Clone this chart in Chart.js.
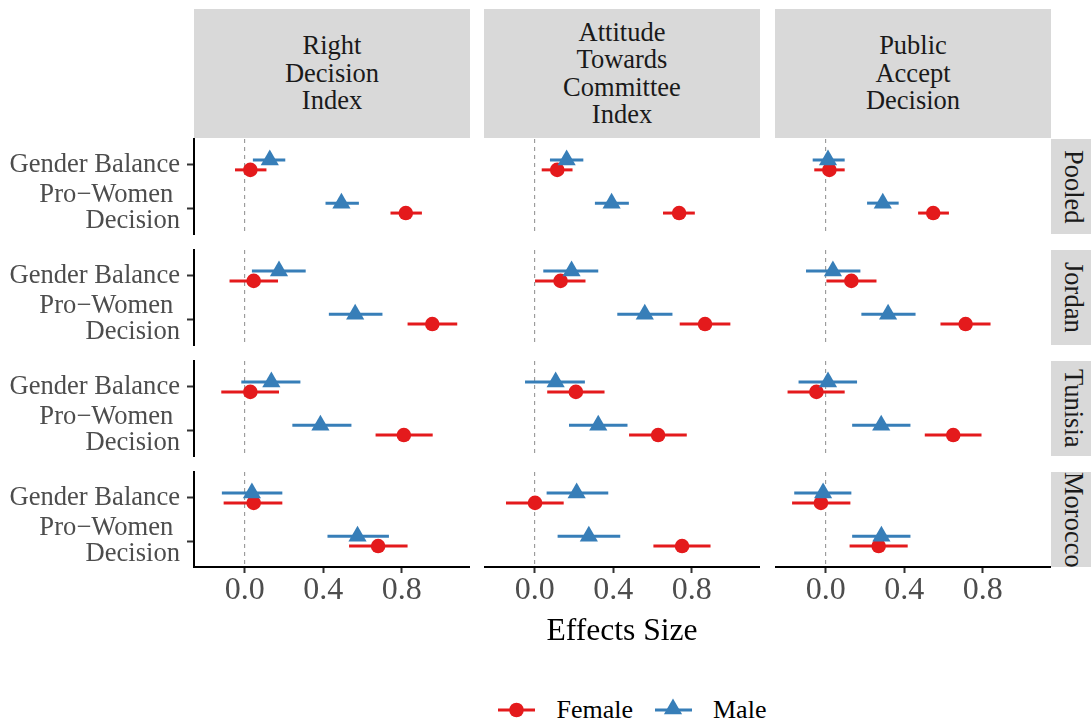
<!DOCTYPE html>
<html>
<head>
<meta charset="utf-8">
<script src="https://cdn.jsdelivr.net/npm/chart.js@4"></script>
<style>
  body { margin: 0; background: #fff; }
  #fig { position: relative; width: 1091px; height: 724px; overflow: hidden; font-family: 'Liberation Serif', serif; }
  #fig canvas { position: absolute; }
  .strip { position: absolute; background: #d9d9d9; color: #1a1a1a; font-size: 26.5px; line-height: 27.5px;
           display: flex; align-items: center; justify-content: center; text-align: center; }
  .vstrip { writing-mode: vertical-rl; }
  .txt { position: absolute; white-space: nowrap; color: #000; }
</style>
</head>
<body>
<div id="fig"></div>
<script>
// ---- data ----
const outcomes = ['Right Decision Index', 'Attitude Towards Committee Index', 'Public Accept Decision'];
const outcomeLines = [['Right', 'Decision', 'Index'], ['Attitude', 'Towards', 'Committee', 'Index'], ['Public', 'Accept', 'Decision']];
const countries = ['Pooled', 'Jordan', 'Tunisia', 'Morocco'];
const treatments = ['Gender Balance', 'Pro−Women Decision'];
const treatmentLabels = ['Gender Balance', ['Pro−Women ', 'Decision']];
const sexes = ['Female', 'Male'];
const xTicks = [0, 0.4, 0.8];

// [country][outcome] -> [Gender Balance, Pro-Women Decision]
const femaleEst = [
  [[0.029, 0.821], [0.115, 0.736], [0.019, 0.548]],
  [[0.046, 0.956], [0.132, 0.868], [0.131, 0.713]],
  [[0.029, 0.811], [0.210, 0.629], [-0.047, 0.650]],
  [[0.046, 0.680], [0.002, 0.751], [-0.024, 0.270]]
];
const femaleLo = [
  [[-0.049, 0.743], [0.036, 0.654], [-0.058, 0.471]],
  [[-0.077, 0.830], [0.002, 0.739], [0.004, 0.585]],
  [[-0.119, 0.667], [0.064, 0.481], [-0.194, 0.505]],
  [[-0.107, 0.532], [-0.146, 0.605], [-0.171, 0.122]]
];
const femaleHi = [
  [[0.111, 0.903], [0.193, 0.816], [0.097, 0.628]],
  [[0.170, 1.083], [0.259, 0.997], [0.259, 0.840]],
  [[0.175, 0.958], [0.356, 0.775], [0.097, 0.794]],
  [[0.192, 0.830], [0.148, 0.896], [0.126, 0.418]]
];
const maleEst = [
  [[0.128, 0.493], [0.163, 0.392], [0.012, 0.291]],
  [[0.175, 0.563], [0.188, 0.561], [0.037, 0.318]],
  [[0.136, 0.386], [0.107, 0.324], [0.012, 0.283]],
  [[0.037, 0.575], [0.214, 0.276], [-0.013, 0.284]]
];
const maleLo = [
  [[0.042, 0.412], [0.078, 0.307], [-0.066, 0.211]],
  [[0.037, 0.429], [0.044, 0.421], [-0.100, 0.182]],
  [[-0.017, 0.243], [-0.049, 0.175], [-0.138, 0.135]],
  [[-0.116, 0.422], [0.061, 0.117], [-0.160, 0.135]]
];
const maleHi = [
  [[0.207, 0.582], [0.248, 0.480], [0.097, 0.372]],
  [[0.311, 0.702], [0.324, 0.702], [0.177, 0.458]],
  [[0.284, 0.544], [0.256, 0.473], [0.160, 0.432]],
  [[0.192, 0.735], [0.375, 0.436], [0.131, 0.432]]
];

// ---- layout ----
const RED = '#E41A1C', BLUE = '#377EB8';
const FONT = "'Liberation Serif', serif";
const colLeft = [194, 484, 775];
const panelW = 276;
const rowTop = [139, 250, 361, 472];
const panelH = 95;
const dodge = 0.115;
const fig = document.getElementById('fig');

function el(tag, cls, css, html) {
  const d = document.createElement(tag);
  if (cls) d.className = cls;
  Object.assign(d.style, css);
  if (html !== undefined) d.innerHTML = html;
  fig.appendChild(d);
  return d;
}

// column strips
outcomes.forEach((o, c) => {
  el('div', 'strip', { left: colLeft[c] + 'px', top: '9px', width: panelW + 'px', height: '129px' },
     outcomeLines[c].join('<br>'));
});
// row strips
countries.forEach((name, r) => {
  el('div', 'strip vstrip', { left: '1051px', top: rowTop[r] + 'px', width: '44px', height: panelH + 'px' }, name);
});

function errorBar(lo, hi, y, color, order) {
  return {
    data: [{ x: lo, y: y }, { x: hi, y: y }],
    showLine: true, borderColor: color, borderWidth: 3, pointRadius: 0, order: order
  };
}

function makePanel(r, c) {
  const bottomRow = r === countries.length - 1;
  const firstCol = c === 0;
  const left = firstCol ? 0 : colLeft[c];
  const width = colLeft[c] + panelW - left;
  const height = 4 + panelH + (bottomRow ? 60 : 4);
  const canvas = document.createElement('canvas');
  canvas.width = width;
  canvas.height = height;
  canvas.style.left = left + 'px';
  canvas.style.top = (rowTop[r] - 4) + 'px';
  fig.appendChild(canvas);

  const datasets = [{
    data: [{ x: 0, y: 0.4 }, { x: 0, y: 2.6 }],
    showLine: true, borderColor: '#8c8c8c', borderWidth: 1, borderDash: [4, 4], pointRadius: 0, order: 5
  }];
  treatments.forEach((t, k) => {
    datasets.push(errorBar(femaleLo[r][c][k], femaleHi[r][c][k], k + 1 + dodge, RED, 3));
    datasets.push(errorBar(maleLo[r][c][k], maleHi[r][c][k], k + 1 - dodge, BLUE, 1));
  });
  datasets.push({
    label: sexes[0],
    data: treatments.map((t, k) => ({ x: femaleEst[r][c][k], y: k + 1 + dodge })),
    pointStyle: 'circle', pointRadius: 7.3, pointBackgroundColor: RED, pointBorderWidth: 0, order: 2
  });
  datasets.push({
    label: sexes[1],
    data: treatments.map((t, k) => ({ x: maleEst[r][c][k], y: k + 1 - dodge })),
    pointStyle: 'triangle', pointRadius: 10.5, pointBackgroundColor: BLUE, pointBorderWidth: 0, order: 0
  });

  new Chart(canvas, {
    type: 'scatter',
    data: { datasets: datasets },
    options: {
      responsive: false, animation: false, devicePixelRatio: 1, events: [],
      layout: { autoPadding: false, padding: { top: 4, bottom: bottomRow ? 0 : 4, left: 0, right: 0 } },
      plugins: { legend: { display: false }, tooltip: { enabled: false } },
      scales: {
        x: {
          type: 'linear', min: -0.258, max: 1.148, display: bottomRow,
          afterBuildTicks: s => { s.ticks = xTicks.map(v => ({ value: v })); },
          afterFit: s => { if (bottomRow) { s.height = 60; s.paddingLeft = 0; s.paddingRight = 0; } },
          grid: { drawOnChartArea: false, drawTicks: true, tickLength: 6, tickColor: '#333', tickWidth: 2 },
          border: { display: true, color: '#000', width: 2 },
          ticks: { color: '#4d4d4d', font: { family: FONT, size: 32, lineHeight: 1 }, padding: 2,
                   maxRotation: 0, autoSkip: false, callback: v => v.toFixed(1) }
        },
        y: {
          type: 'linear', min: 0.4, max: 2.6, reverse: true, display: firstCol,
          afterBuildTicks: s => { s.ticks = treatments.map((t, k) => ({ value: k + 1 })); },
          afterFit: s => { if (firstCol) { s.width = 194; s.paddingTop = 0; s.paddingBottom = 0; } },
          grid: { drawOnChartArea: false, drawTicks: true, tickLength: 7, tickColor: '#333', tickWidth: 2 },
          border: { display: true, color: '#000', width: 2 },
          ticks: { color: '#4d4d4d', font: { family: FONT, size: 26.6, lineHeight: '26px' }, padding: 7,
                   autoSkip: false, callback: v => treatmentLabels[Math.round(v) - 1] }
        }
      }
    }
  });
}

countries.forEach((name, r) => outcomes.forEach((o, c) => makePanel(r, c)));

// axis title
el('div', 'txt', { left: '422px', width: '400px', textAlign: 'center', top: '614px', fontSize: '31.6px', lineHeight: '32px' }, 'Effects Size');

// legend
el('div', '', { position: 'absolute', left: '0', top: '690px', width: '1091px', height: '34px' },
  '<svg width="1091" height="34" style="position:absolute;left:0;top:0">' +
  '<line x1="498" y1="20" x2="535" y2="20" stroke="' + RED + '" stroke-width="3"/>' +
  '<circle cx="516.5" cy="20" r="7.3" fill="' + RED + '"/>' +
  '<line x1="655" y1="20" x2="692" y2="20" stroke="' + BLUE + '" stroke-width="3"/>' +
  '<polygon points="673,8.5 663.9,24.25 682.1,24.25" fill="' + BLUE + '"/>' +
  '</svg>');
el('div', 'txt', { left: '556.5px', top: '697px', fontSize: '26px', lineHeight: '26px' }, sexes[0]);
el('div', 'txt', { left: '713px', top: '697px', fontSize: '26px', lineHeight: '26px' }, sexes[1]);
</script>
</body>
</html>
